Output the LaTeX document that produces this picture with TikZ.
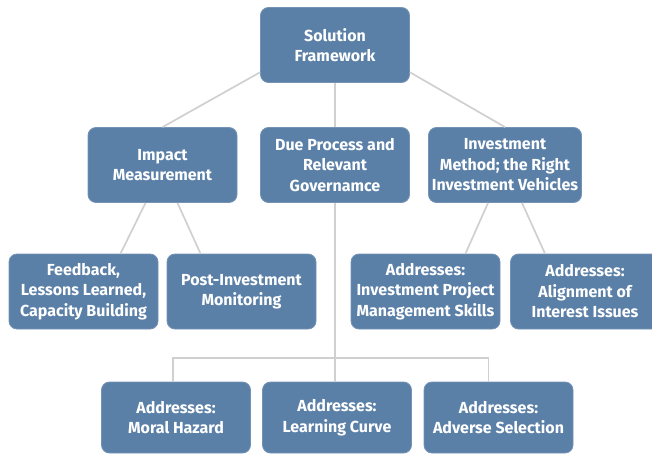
\documentclass[tikz,border=0pt]{standalone}
\usepackage{fontspec}
\setmainfont{Fira Sans}
\usepackage{tikz}

\definecolor{boxblue}{RGB}{91,128,167}
\definecolor{linegray}{RGB}{208,208,208}

\begin{document}
\begin{tikzpicture}[x=1pt, y=-1pt,
    box/.style={rectangle, rounded corners=8pt, fill=boxblue, draw=boxblue!85!white,
      line width=0.8pt, minimum width=149pt, minimum height=75pt, align=center,
      text=white, font=\fontsize{16pt}{20.5pt}\selectfont\bfseries},
    edge/.style={draw=linegray, line width=1.7pt}]
    \useasboundingbox (0,0) rectangle (652,454);
    % ノード
    \node[box] (root) at (335, 45) {Solution\\Framework};
    \node[box] (imp) at (162.5, 165) {Impact\\Measurement};
    \node[box] (due) at (335, 165) {Due Process and\\Relevant\\Governamce};
    \node[box] (inv) at (505, 165) {Investment\\Method; the Right\\Investment Vehicles};
    \node[box] (fb) at (83.5, 291.5) {Feedback,\\Lessons Learned,\\Capacity Building};
    \node[box] (post) at (241.5, 291.5) {Post-Investment\\Monitoring};
    \node[box] (proj) at (425.5, 291.5) {Addresses:\\Investment Project\\Management Skills};
    \node[box] (align) at (585, 291.5) {Addresses:\\Alignment of\\Interest Issues};
    \node[box, minimum height=71pt] (moral) at (176, 417.5) {Addresses:\\Moral Hazard};
    \node[box, minimum height=71pt] (learn) at (337, 417.5) {Addresses:\\Learning Curve};
    \node[box, minimum height=71pt] (adv) at (498.5, 417.5) {Addresses:\\Adverse Selection};
    \coordinate (bus) at (335, 358);

    % エッジ
    \draw[edge] (root.200) -- (imp.north);
    \draw[edge] (root.south) -- (due.north);
    \draw[edge] (root.-20) -- (inv.north);
    \draw[edge] ([xshift=-17pt]imp.south) -- ([xshift=37pt]fb.north);
    \draw[edge] ([xshift=15pt]imp.south) -- ([xshift=-41pt]post.north);
    \draw[edge] ([xshift=-17pt]inv.south) -- ([xshift=40pt]proj.north);
    \draw[edge] ([xshift=17pt]inv.south) -- ([xshift=-40pt]align.north);
    \draw[edge] (due.south) -- (bus);
    \draw[edge] ([xshift=-3pt]moral.north) |- (bus) -| ([xshift=-10pt]adv.north);
    \draw[edge] (bus) -- (bus |- learn.north);
  \end{tikzpicture}
\end{document}
